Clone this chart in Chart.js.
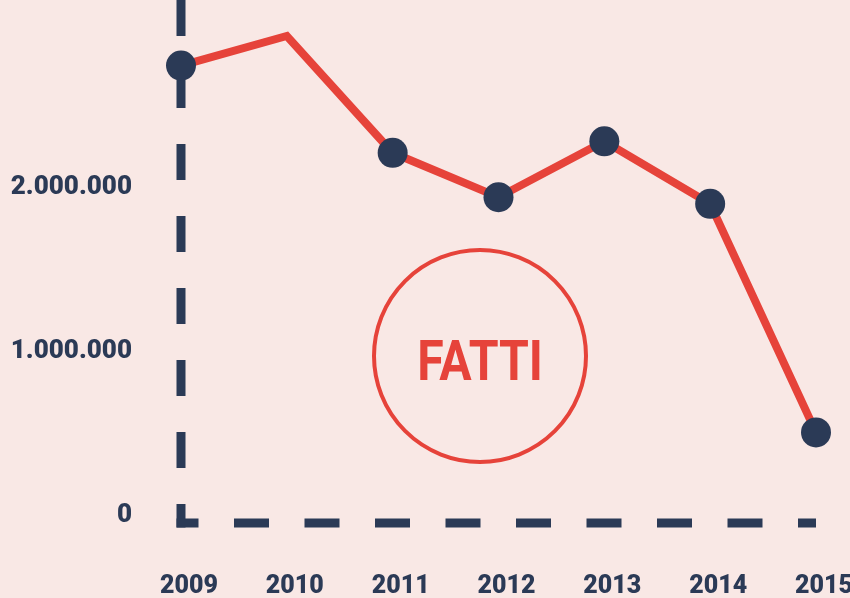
<!DOCTYPE html>
<html>
<head>
<meta charset="utf-8">
<script src="https://cdn.jsdelivr.net/npm/chart.js@4"></script>
<style>
  html, body { margin: 0; padding: 0; background: #f9e8e5; }
  #wrap { width: 850px; height: 598px; }
</style>
</head>
<body>
<div id="wrap"><canvas id="fattiChart" width="850" height="598"></canvas></div>
<script>
var years = ['2009', '2010', '2011', '2012', '2013', '2014', '2015'];
var values = [2720000, 2900000, 2190000, 1920000, 2260000, 1880000, 490000];
var markerSizes = [15, 0, 15, 15, 15, 15, 15];
var yTicks = [0, 1000000, 2000000];
var yTickLabels = ['0', '1.000.000', '2.000.000'];

var navy = '#2b3a56';
var red = '#e6433a';

// dashed L-shaped axes, drawn from the chart area
var dashedAxes = {
    id: 'dashedAxes',
    beforeDatasetsDraw: function (chart) {
        var a = chart.chartArea;
        var ctx = chart.ctx;
        ctx.save();
        ctx.strokeStyle = navy;
        ctx.lineWidth = 9;
        ctx.lineCap = 'butt';
        ctx.setLineDash([36, 36]);
        ctx.lineDashOffset = 0;
        ctx.beginPath();
        ctx.moveTo(a.left, a.top);
        ctx.lineTo(a.left, a.bottom + 4.5);
        ctx.stroke();
        ctx.setLineDash([35, 35.5]);
        ctx.lineDashOffset = 13;
        ctx.beginPath();
        ctx.moveTo(a.left - 4.5, a.bottom);
        ctx.lineTo(a.right, a.bottom);
        ctx.stroke();
        ctx.restore();
    }
};

// red "FATTI" stamp
var stamp = {
    id: 'stamp',
    afterDraw: function (chart) {
        var ctx = chart.ctx;
        ctx.save();
        ctx.strokeStyle = red;
        ctx.lineWidth = 4;
        ctx.beginPath();
        ctx.arc(480, 356, 106, 0, Math.PI * 2);
        ctx.stroke();
        ctx.fillStyle = red;
        ctx.font = 'bold 56px "Roboto", sans-serif';
        ctx.textAlign = 'center';
        ctx.textBaseline = 'alphabetic';
        ctx.translate(480, 380);
        ctx.scale(0.86, 1);
        ctx.fillText('FATTI', 0, 0);
        ctx.restore();
    }
};

document.addEventListener('DOMContentLoaded', function () {
    var ctx = document.getElementById('fattiChart').getContext('2d');
    new Chart(ctx, {
        type: 'line',
        data: {
            labels: years,
            datasets: [{
                data: values,
                borderColor: red,
                borderWidth: 8,
                borderJoinStyle: 'miter',
                pointRadius: markerSizes,
                pointHoverRadius: markerSizes,
                pointBackgroundColor: navy,
                pointBorderWidth: 0,
                tension: 0,
                clip: false
            }]
        },
        options: {
            responsive: false,
            animation: false,
            layout: { autoPadding: false, padding: { top: 0, right: 34, bottom: 0, left: 0 } },
            plugins: { legend: { display: false }, tooltip: { enabled: false } },
            scales: {
                x: {
                    offset: false,
                    grid: { display: false, drawTicks: false },
                    border: { display: false },
                    ticks: {
                        color: navy,
                        font: { family: 'Roboto', weight: 900, size: 25 },
                        padding: 49,
                        labelOffset: 8,
                        maxRotation: 0,
                        autoSkip: false
                    },
                    afterFit: function (s) {
                        s.height = 75;
                        s.paddingLeft = 0; s.paddingRight = 0;
                    }
                },
                y: {
                    min: -61000,
                    max: 3119000,
                    grid: { display: false, drawTicks: false },
                    border: { display: false },
                    afterBuildTicks: function (s) {
                        s.ticks = yTicks.map(function (v) { return { value: v }; });
                    },
                    ticks: {
                        color: navy,
                        font: { family: 'Roboto', weight: 900, size: 26 },
                        padding: 49,
                        labelOffset: 3,
                        callback: function (v) {
                            return yTickLabels[yTicks.indexOf(v)];
                        }
                    },
                    afterFit: function (s) {
                        s.width = 181;
                        s.paddingTop = 0; s.paddingBottom = 0;
                    }
                }
            }
        },
        plugins: [dashedAxes, stamp]
    });
});
</script>
</body>
</html>
